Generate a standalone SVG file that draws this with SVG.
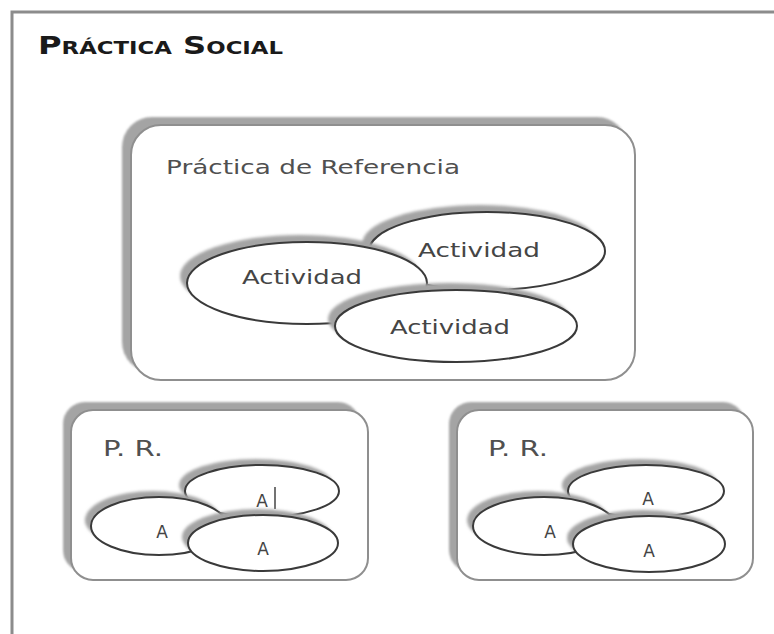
<svg xmlns="http://www.w3.org/2000/svg" width="774" height="634" viewBox="0 0 774 634">
<defs>
<pattern id="hatch" width="3" height="3" patternUnits="userSpaceOnUse">
<rect width="3" height="3" fill="#959595"/>
<rect width="1" height="3" fill="#b4b4b4"/>
<rect width="3" height="1" fill="#acacac"/>
</pattern>
<filter id="soft" x="-10%" y="-10%" width="120%" height="120%">
<feGaussianBlur stdDeviation="1.1"/>
</filter>
<filter id="soft2" x="-10%" y="-20%" width="120%" height="140%">
<feGaussianBlur stdDeviation="1.4"/>
</filter>
</defs>
<style>
.frame{fill:none;stroke:#8c8c8c;stroke-width:3}
.shadow{fill:url(#hatch);filter:url(#soft)}
.eshadow{fill:url(#hatch);filter:url(#soft2)}
.box{fill:#ffffff;stroke:#8f8f8f;stroke-width:2}
.ell{fill:#ffffff;stroke:#3a3a3a;stroke-width:2}
.title{font-family:"DejaVu Sans","Liberation Sans",sans-serif;font-weight:bold;font-variant:small-caps;font-size:24px;fill:#1a1a1a}
.lbl{font-family:"DejaVu Sans","Liberation Sans",sans-serif;font-size:20px;fill:#505050}
.pr{font-family:"DejaVu Sans","Liberation Sans",sans-serif;font-size:22px;fill:#505050}
.act{font-family:"DejaVu Sans","Liberation Sans",sans-serif;font-size:20px;fill:#454545;text-anchor:middle}
.a{font-family:"DejaVu Sans","Liberation Sans",sans-serif;font-size:17px;fill:#454545;text-anchor:middle}
</style>
<rect width="774" height="634" fill="#ffffff"/>
<path class="frame" d="M12,634 V12 H774"/>
<text class="title" x="38" y="54" textLength="245" lengthAdjust="spacingAndGlyphs">Práctica Social</text>

<g id="practica-referencia">
<rect class="shadow" x="122" y="117" width="505" height="255" rx="30"/>
<rect class="box" x="131" y="125" width="504" height="255" rx="30"/>
<text class="lbl" x="166" y="174" textLength="294" lengthAdjust="spacingAndGlyphs">Práctica de Referencia</text>
<g id="actividad-2">
<ellipse class="eshadow" cx="480" cy="244" rx="118" ry="39"/>
<ellipse class="ell" cx="487" cy="251" rx="118" ry="39"/>
<text class="act" x="479" y="257" textLength="122" lengthAdjust="spacingAndGlyphs">Actividad</text>
</g>
<g id="actividad-1">
<ellipse class="eshadow" cx="300" cy="276" rx="120" ry="41"/>
<ellipse class="ell" cx="307" cy="283" rx="120" ry="41"/>
<text class="act" x="302" y="284" textLength="120" lengthAdjust="spacingAndGlyphs">Actividad</text>
</g>
<g id="actividad-3">
<ellipse class="eshadow" cx="449" cy="319" rx="121" ry="36"/>
<ellipse class="ell" cx="456" cy="326" rx="121" ry="36"/>
<text class="act" x="450" y="334" textLength="120" lengthAdjust="spacingAndGlyphs">Actividad</text>
</g>
</g>

<g id="pr-izquierda">
<rect class="shadow" x="63" y="402" width="297" height="170" rx="22"/>
<rect class="box" x="71" y="410" width="297" height="170" rx="22"/>
<text class="pr" x="103" y="456" textLength="60" lengthAdjust="spacingAndGlyphs">P. R.</text>
<g id="a-izq-2">
<ellipse class="eshadow" cx="256" cy="485" rx="77" ry="26"/>
<ellipse class="ell" cx="262" cy="491" rx="77" ry="26"/>
<text class="a" x="262" y="507">A</text>
<line x1="275" y1="487" x2="275" y2="509" stroke="#454545" stroke-width="1.5"/>
</g>
<g id="a-izq-1">
<ellipse class="eshadow" cx="153" cy="520" rx="68" ry="29"/>
<ellipse class="ell" cx="159" cy="526" rx="68" ry="29"/>
<text class="a" x="162" y="538">A</text>
</g>
<g id="a-izq-3">
<ellipse class="eshadow" cx="257" cy="537" rx="75" ry="28"/>
<ellipse class="ell" cx="263" cy="543" rx="75" ry="28"/>
<text class="a" x="263" y="555">A</text>
</g>
</g>

<g id="pr-derecha">
<rect class="shadow" x="449" y="402" width="296" height="170" rx="22"/>
<rect class="box" x="457" y="410" width="296" height="170" rx="22"/>
<text class="pr" x="488" y="456" textLength="60" lengthAdjust="spacingAndGlyphs">P. R.</text>
<g id="a-der-2">
<ellipse class="eshadow" cx="640" cy="485" rx="78" ry="26"/>
<ellipse class="ell" cx="646" cy="491" rx="78" ry="26"/>
<text class="a" x="648" y="505">A</text>
</g>
<g id="a-der-1">
<ellipse class="eshadow" cx="538" cy="520" rx="71" ry="29"/>
<ellipse class="ell" cx="544" cy="526" rx="71" ry="29"/>
<text class="a" x="550" y="538">A</text>
</g>
<g id="a-der-3">
<ellipse class="eshadow" cx="643" cy="538" rx="76" ry="28"/>
<ellipse class="ell" cx="649" cy="544" rx="76" ry="28"/>
<text class="a" x="649" y="557">A</text>
</g>
</g>
</svg>
